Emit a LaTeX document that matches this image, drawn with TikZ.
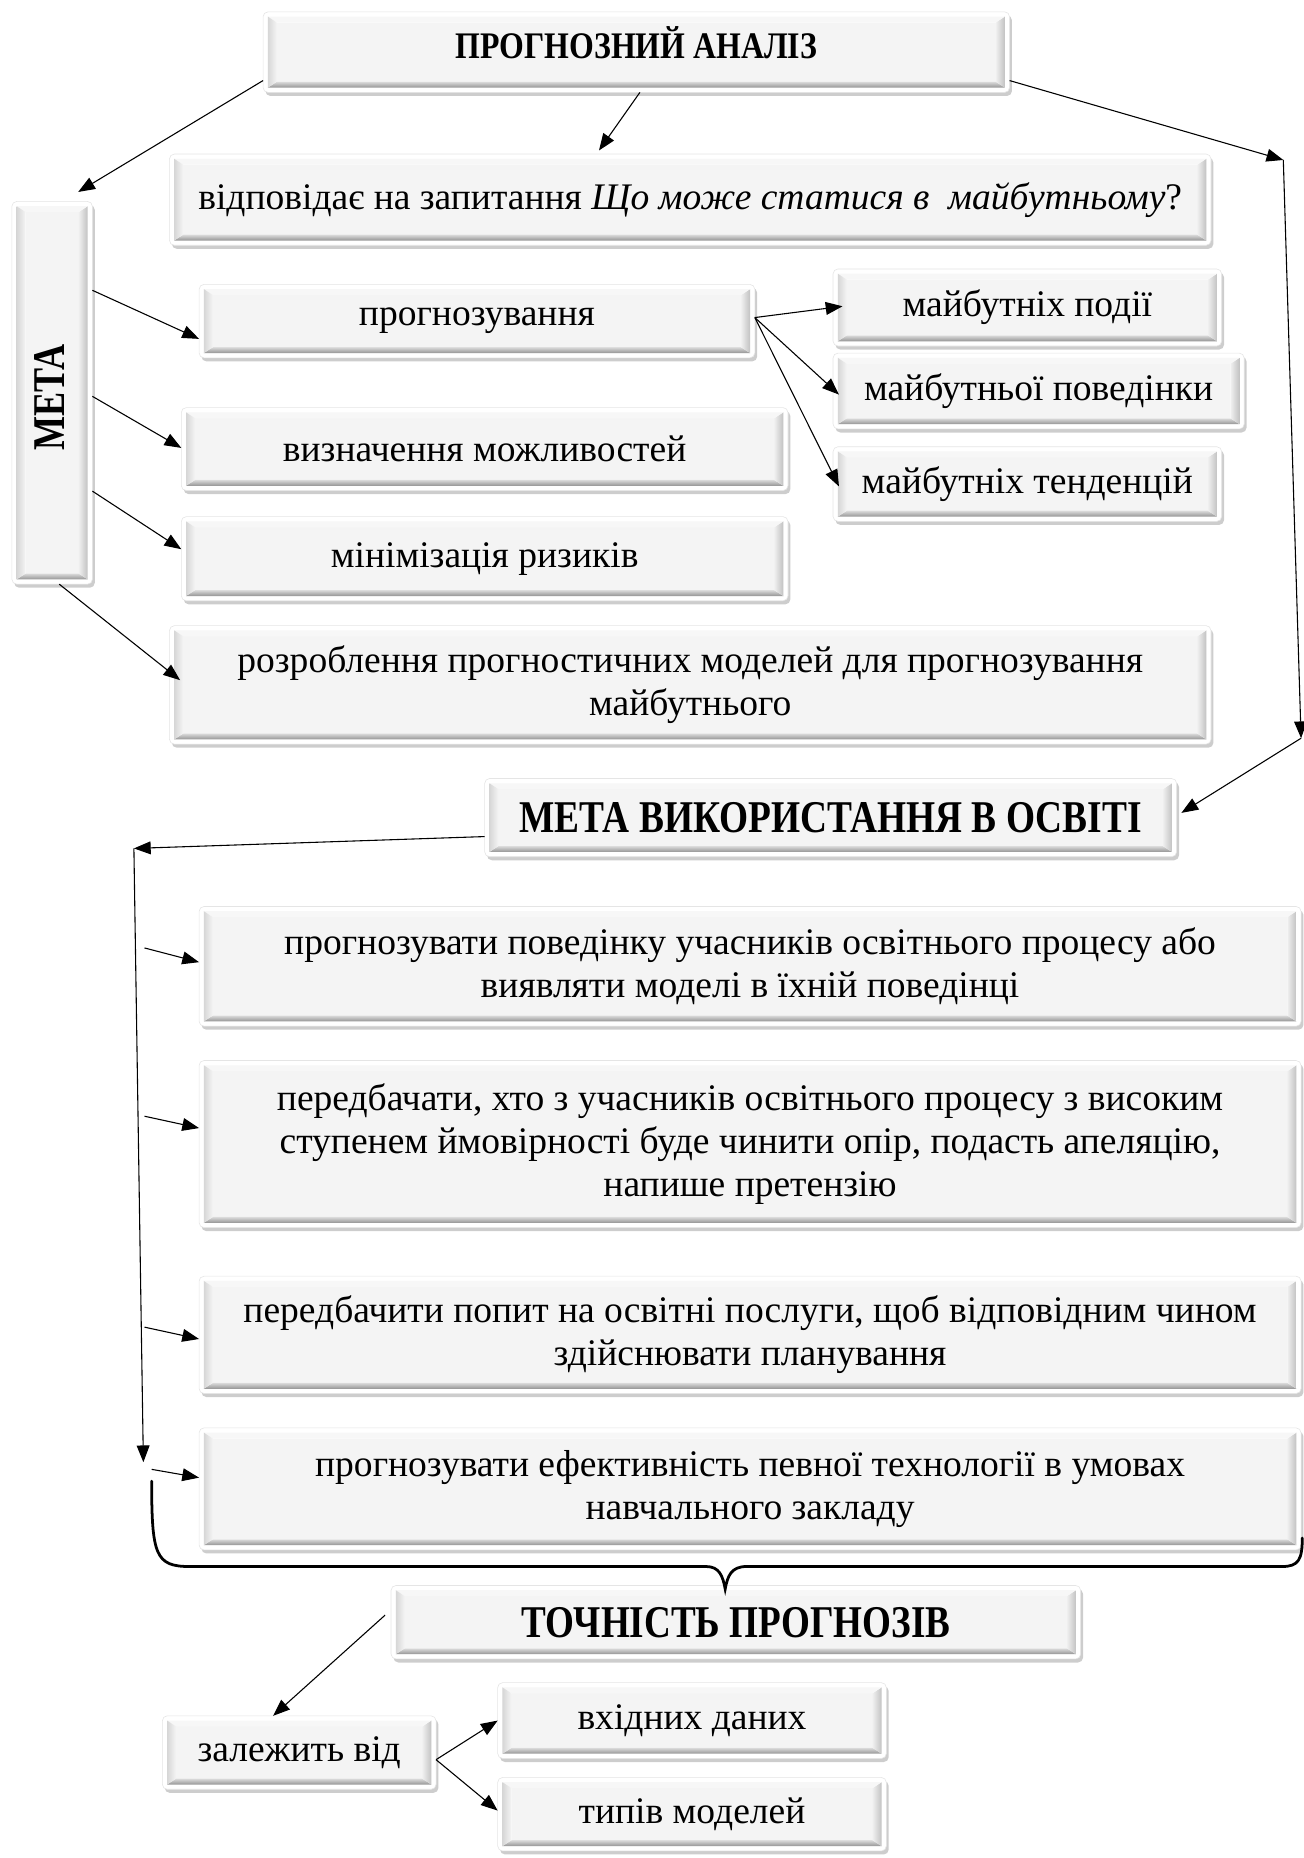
\documentclass[tikz,border=0pt]{standalone}
\usepackage{fontspec}
\setmainfont{Liberation Serif}
\usetikzlibrary{arrows.meta,shadows,calc}
\newcommand\bodyf{\fontsize{19}{21.6}\selectfont}
\newcommand\cond[3]{{\fontsize{#1}{#1}\bfseries\selectfont\resizebox{#2pt}{\height}{#3}}}
\definecolor{face}{HTML}{F4F4F4}
\tikzset{
  bevel/.style={
    rounded corners=2.5pt, fill=white, draw=black!10, line width=0.3pt,
    drop shadow={shadow xshift=1.2pt, shadow yshift=-1.8pt, opacity=0.28, fill=black!70},
    inner sep=0pt, outer sep=0pt, align=center, font=\bodyf,
    path picture={
      \coordinate (@sw) at (path picture bounding box.south west);
      \coordinate (@ne) at (path picture bounding box.north east);
      \coordinate (@se) at (path picture bounding box.south east);
      \coordinate (@nw) at (path picture bounding box.north west);
      \coordinate (@A) at ($(@sw)+(2.4pt,2.4pt)$);
      \coordinate (@B) at ($(@se)+(-2.4pt,2.4pt)$);
      \coordinate (@C) at ($(@ne)+(-2.4pt,-2.4pt)$);
      \coordinate (@D) at ($(@nw)+(2.4pt,-2.4pt)$);
      \coordinate (@a) at ($(@sw)+(7pt,5.4pt)$);
      \coordinate (@b) at ($(@se)+(-7pt,5.4pt)$);
      \coordinate (@c) at ($(@ne)+(-7pt,-5.4pt)$);
      \coordinate (@d) at ($(@nw)+(7pt,-5.4pt)$);
      \fill[face, sharp corners] (@a) -- (@b) -- (@c) -- (@d) -- cycle;
      \shade[sharp corners, top color=black!14, bottom color=black!42] (@A) -- (@B) -- (@b) -- (@a) -- cycle;
      \shade[sharp corners, left color=black!6, right color=black!24] (@B) -- (@C) -- (@c) -- (@b) -- cycle;
      \fill[sharp corners, black!3] (@D) -- (@C) -- (@c) -- (@d) -- cycle;
      \shade[sharp corners, left color=black!16, right color=black!4] (@A) -- (@D) -- (@d) -- (@a) -- cycle;
    }
  },
  arr/.style={-{Triangle[length=8.5pt,width=6.5pt]}, line width=0.55pt, black},
  bracepath/.style={line width=1.4pt, black, line cap=round}
}
\newcommand\bevbox[6]{\node[bevel, minimum width={(#4-#2)*0.6pt}, minimum height={(#5-#3)*0.6pt}] (#1) at ({(#2+#4)/2},{(#3+#5)/2}) {#6};}
\begin{document}
\begin{tikzpicture}[x=0.6pt,y=-0.6pt]
\useasboundingbox (0,0) rectangle (1100,1568);

% boxes
\bevbox{title}{222}{10}{852}{78}{}
\node (titletext) at ($(title.center)+(0,-8)$) {\cond{19}{183}{ПРОГНОЗНИЙ АНАЛІЗ}};
\bevbox{q}{143}{130}{1022}{207}{відповідає на запитання \textit{Що може статися в\ \ майбутньому}?}
\bevbox{meta}{10}{170}{78}{493}{}
\node[rotate=90] (metatext) at ($(meta.center)+(-2,4)$) {\cond{23}{54}{МЕТА}};
\bevbox{prog}{168}{240}{637}{302}{прогнозування}
\bevbox{ev}{703}{227}{1031}{292}{майбутніх події}
\bevbox{beh}{703}{298}{1050}{362}{майбутньої поведінки}
\bevbox{tr}{703}{377}{1031}{440}{майбутніх тенденцій}
\bevbox{opp}{153}{344}{665}{414}{визначення можливостей}
\bevbox{risk}{153}{436}{665}{507}{мінімізація ризиків}
\bevbox{mod}{143}{528}{1022}{628}{розроблення прогностичних моделей для прогнозування\\ майбутнього}
\bevbox{edu}{409}{657}{993}{723}{\cond{23}{315}{МЕТА ВИКОРИСТАННЯ В ОСВІТІ}}
\bevbox{e1}{168}{765}{1098}{866}{прогнозувати поведінку учасників освітнього процесу або\\ виявляти моделі в їхній поведінці}
\bevbox{e2}{168}{895}{1098}{1036}{передбачати, хто з учасників освітнього процесу з високим\\ ступенем ймовірності буде чинити опір, подасть апеляцію,\\ напише претензію}
\bevbox{e3}{168}{1077}{1098}{1176}{передбачити попит на освітні послуги, щоб відповідним чином\\ здійснювати планування}
\bevbox{e4}{168}{1205}{1098}{1308}{прогнозувати ефективність певної технології в умовах\\ навчального закладу}
\bevbox{acc}{330}{1338}{912}{1400}{\cond{23}{217}{ТОЧНІСТЬ ПРОГНОЗІВ}}
\bevbox{dep}{137}{1448}{368}{1510}{залежить від}
\bevbox{inp}{420}{1420}{748}{1484}{вхідних даних}
\bevbox{typ}{420}{1500}{748}{1562}{типів моделей}

% free corner points
\coordinate (rc1) at (1083,135);
\coordinate (rc2) at (1098,623);
\coordinate (lc1) at (113,716);
\coordinate (lc2) at (121,1234);
\coordinate (s1) at (122,800);
\coordinate (s2) at (122,942);
\coordinate (s3) at (122,1120);
\coordinate (s4) at (128,1240);

% connectors
\draw[arr] ($(title.south west)+(0,-10)$) -- ($(meta.north east)+(-12,-8)$);
\draw[arr] ($(title.south)+(3,0)$) -- ($(q.north)+(-77,-3)$);
\draw[arr] ($(title.south east)+(0,-10)$) -- (rc1);
\draw[arr] (rc1) -- (rc2);
\draw[arr] (rc2) -- ($(edu.east)+(4,-4)$);

\draw[arr] ($(meta.north east)+(0,75)$) -- ($(prog.west)+(0,15)$);
\draw[arr] ($(meta.east)+(0,3)$) -- ($(opp.west)+(0,-1)$);
\draw[arr] ($(meta.east)+(0,83)$) -- ($(risk.west)+(0,-8)$);
\draw[arr] ($(meta.south)+(6,0)$) -- ($(mod.west)+(9,-4)$);

\draw[arr] ($(prog.east)+(0,-3)$) -- ($(ev.west)+(8,-1)$);
\draw[arr] ($(prog.east)+(0,-3)$) -- ($(beh.west)+(5,3)$);
\draw[arr] ($(prog.east)+(0,-3)$) -- ($(tr.west)+(5,2)$);

\draw[arr] ($(edu.west)+(0,16)$) -- (lc1);
\draw[arr] (lc1) -- (lc2);
\draw[arr] (s1) -- ($(e1.west)+(0,-3.5)$);
\draw[arr] (s2) -- ($(e2.west)+(0,-13.5)$);
\draw[arr] (s3) -- ($(e3.west)+(0,3.5)$);
\draw[arr] (s4) -- ($(e4.west)+(0,-9.5)$);

\draw[arr] ($(acc.west)+(-5,-6)$) -- ($(dep.north)+(-22,0)$);
\draw[arr] ($(dep.east)+(0,6)$) -- (inp.west);
\draw[arr] ($(dep.east)+(0,6)$) -- ($(typ.west)+(0,-3)$);

% brace
\draw[bracepath] (128,1250) .. controls (128,1312) and (131,1322) .. (160,1322) -- (596,1322) .. controls (607,1322) and (610,1330) .. (612,1341) .. controls (614,1330) and (617,1322) .. (630,1322) -- (1082,1322) .. controls (1096,1322) and (1099,1316) .. (1099,1298);
\end{tikzpicture}
\end{document}
